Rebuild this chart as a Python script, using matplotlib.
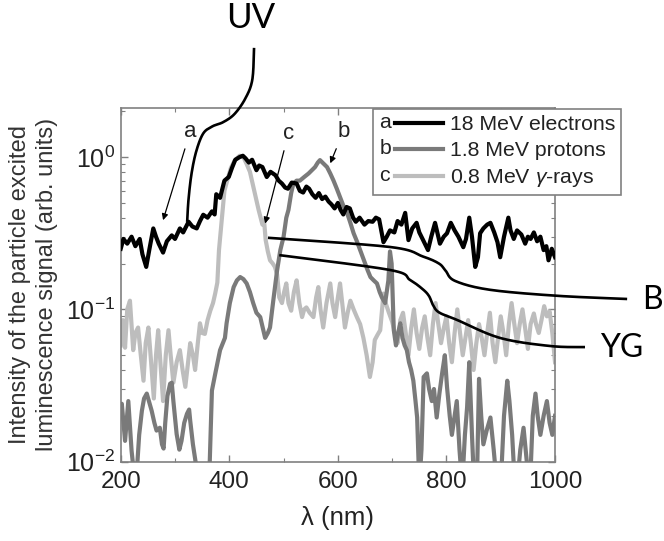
import numpy as np
import matplotlib
matplotlib.use("Agg")
import matplotlib.pyplot as plt
from matplotlib.legend_handler import HandlerBase
from matplotlib.lines import Line2D
from matplotlib.text import Text
from matplotlib.ticker import MultipleLocator

plt.rcParams['font.family'] = ['Liberation Sans', 'DejaVu Sans']
plt.rcParams['mathtext.fontset'] = 'custom'
plt.rcParams['mathtext.rm'] = 'Liberation Sans'
plt.rcParams['mathtext.it'] = 'Liberation Sans:italic'

# a: 18 MeV electrons
lam_a = [200, 205, 212, 220, 227, 235, 240, 247, 253, 260, 265, 270, 278, 285, 294, 300,
         309, 315, 325, 332, 340, 346, 352, 360, 368, 373, 376, 383, 391, 399, 405, 411,
         419, 425, 430, 436, 442, 450, 455, 461, 469, 476, 485, 491, 497, 503, 508, 515,
         524, 530, 536, 542, 547, 553, 559, 565, 571, 577, 583, 588, 594, 600, 605, 610,
         616, 622, 628, 633, 640, 649, 656, 664, 670, 676, 684, 690, 696, 704, 710, 717,
         724, 730, 737, 745, 750, 757, 766, 772, 779, 788, 795, 801, 808, 815, 822, 831,
         836, 842, 847, 853, 858, 862, 868, 875, 881, 888, 894, 899, 906, 914, 918, 924,
         930, 938, 945, 950, 955, 961, 967, 973, 979, 984, 988, 994, 1000]
sig_a = [0.25, 0.29, 0.27, 0.30, 0.26, 0.29, 0.23, 0.19, 0.25, 0.34, 0.30, 0.27, 0.236, 0.28, 0.306, 0.29,
         0.34, 0.32, 0.376, 0.35, 0.34, 0.38, 0.418, 0.40, 0.44, 0.42, 0.57, 0.54, 0.70, 0.74, 0.85, 0.96,
         1.0, 1.02, 0.98, 0.92, 0.96, 0.82, 0.88, 0.86, 0.74, 0.80, 0.76, 0.70, 0.67, 0.63, 0.62, 0.68,
         0.67, 0.60, 0.585, 0.64, 0.62, 0.57, 0.54, 0.58, 0.53, 0.55, 0.51, 0.49, 0.46, 0.50, 0.45, 0.42,
         0.47, 0.46, 0.40, 0.376, 0.40, 0.36, 0.38, 0.376, 0.40, 0.39, 0.276, 0.30, 0.33, 0.32, 0.38, 0.36,
         0.43, 0.285, 0.34, 0.37, 0.32, 0.285, 0.245, 0.30, 0.37, 0.27, 0.30, 0.316, 0.37, 0.33, 0.30, 0.256,
         0.29, 0.40, 0.30, 0.19, 0.22, 0.316, 0.34, 0.36, 0.37, 0.32, 0.276, 0.22, 0.30, 0.40, 0.33, 0.29,
         0.33, 0.31, 0.27, 0.30, 0.29, 0.32, 0.28, 0.30, 0.245, 0.26, 0.21, 0.25, 0.22]

# b: 1.8 MeV protons
lam_b = [200, 202, 208, 214, 220, 225, 230, 234, 239, 243, 248, 252, 257, 262, 266, 272,
         276, 279, 282, 286, 291, 294, 297, 303, 308, 312, 317, 322, 326, 328, 333, 337,
         342, 350, 358, 364, 368, 374, 383, 392, 395, 401, 408, 414, 420, 426, 432, 438,
         444, 450, 457, 462, 466, 471, 475, 481, 488, 494, 500, 505, 509, 514, 518, 524,
         530, 538, 546, 552, 558, 563, 567, 573, 580, 586, 592, 598, 604, 610, 617, 623,
         629, 635, 641, 650, 655, 660, 666, 672, 677, 681, 687, 690, 693, 696, 699, 703,
         707, 711, 715, 719, 723, 727, 731, 735, 739, 743, 746, 750, 754, 758, 764, 768,
         773, 777, 782, 787, 792, 797, 801, 806, 810, 815, 819, 824, 829, 834, 838, 842,
         847, 851, 856, 860, 864, 868, 874, 881, 887, 893, 900, 906, 912, 916, 921, 926,
         930, 936, 942, 948, 954, 959, 964, 968, 973, 979, 985, 990, 995, 1000]
sig_b = [0.020, 0.024, 0.0137, 0.025, 0.0118, 0.008, 0.009, 0.015, 0.0216, 0.026, 0.028, 0.025, 0.0216, 0.018, 0.016, 0.0167,
         0.013, 0.0122, 0.018, 0.027, 0.0325, 0.033, 0.025, 0.0152, 0.012, 0.0137, 0.018, 0.0206, 0.022, 0.0186, 0.013, 0.0105,
         0.008, 0.007, 0.007, 0.010, 0.0293, 0.0376, 0.054, 0.065, 0.081, 0.11, 0.14, 0.155, 0.163, 0.158, 0.148, 0.13,
         0.11, 0.095, 0.089, 0.075, 0.065, 0.07, 0.076, 0.114, 0.18, 0.245, 0.30, 0.40, 0.45, 0.58, 0.67, 0.70,
         0.70, 0.74, 0.78, 0.82, 0.86, 0.92, 0.955, 0.91, 0.86, 0.78, 0.70, 0.62, 0.545, 0.48, 0.43, 0.37,
         0.316, 0.28, 0.245, 0.20, 0.18, 0.163, 0.155, 0.148, 0.13, 0.12, 0.11, 0.13, 0.155, 0.24, 0.20, 0.073,
         0.058, 0.07, 0.081, 0.065, 0.058, 0.054, 0.045, 0.04, 0.034, 0.025, 0.0195, 0.007, 0.012, 0.036, 0.038, 0.03,
         0.025, 0.03, 0.0195, 0.028, 0.038, 0.05, 0.031, 0.02, 0.015, 0.02, 0.025, 0.012, 0.007, 0.015, 0.0227, 0.045,
         0.015, 0.007, 0.007, 0.035, 0.02, 0.013, 0.016, 0.0195, 0.012, 0.007, 0.007, 0.02, 0.034, 0.025, 0.015, 0.007,
         0.007, 0.012, 0.0167, 0.01, 0.007, 0.02, 0.028, 0.02, 0.015, 0.02, 0.025, 0.018, 0.015, 0.02]

# c: 0.8 MeV gamma-rays
lam_c = [200, 204, 208, 212, 217, 223, 227, 232, 237, 242, 246, 251, 256, 261, 265, 269,
         274, 278, 283, 288, 292, 297, 303, 309, 314, 319, 324, 328, 333, 337, 342, 346,
         350, 355, 360, 365, 370, 374, 378, 381, 385, 391, 397, 403, 410, 419, 426, 432,
         438, 446, 454, 461, 464, 467, 471, 475, 480, 484, 488, 492, 497, 501, 505, 509,
         514, 519, 524, 529, 534, 538, 542, 548, 555, 560, 564, 568, 573, 579, 586, 590,
         595, 600, 604, 608, 613, 618, 623, 629, 635, 641, 647, 653, 659, 664, 668, 673,
         678, 684, 688, 694, 700, 705, 710, 715, 720, 725, 730, 735, 740, 745, 750, 755,
         760, 765, 770, 775, 780, 785, 790, 795, 800, 805, 810, 815, 820, 825, 830, 835,
         840, 845, 850, 855, 860, 865, 870, 875, 880, 885, 890, 895, 900, 905, 910, 915,
         920, 925, 930, 935, 940, 945, 950, 955, 961, 965, 970, 975, 980, 985, 990, 995, 1000]
sig_c = [0.058, 0.085, 0.056, 0.10, 0.114, 0.054, 0.07, 0.076, 0.05, 0.034, 0.06, 0.076, 0.045, 0.026, 0.05, 0.073,
         0.04, 0.025, 0.05, 0.073, 0.05, 0.033, 0.045, 0.054, 0.04, 0.031, 0.045, 0.06, 0.05, 0.04, 0.06, 0.081,
         0.07, 0.069, 0.085, 0.098, 0.11, 0.127, 0.15, 0.245, 0.35, 0.60, 0.72, 0.85, 0.95, 1.02, 1.0, 0.90,
         0.80, 0.60, 0.45, 0.36, 0.385, 0.285, 0.24, 0.21, 0.20, 0.19, 0.17, 0.12, 0.11, 0.13, 0.148, 0.11,
         0.098, 0.13, 0.155, 0.11, 0.089, 0.10, 0.103, 0.095, 0.089, 0.12, 0.14, 0.10, 0.076, 0.11, 0.148, 0.11,
         0.089, 0.12, 0.148, 0.11, 0.076, 0.095, 0.114, 0.10, 0.089, 0.08, 0.065, 0.05, 0.036, 0.045, 0.063, 0.068,
         0.073, 0.127, 0.11, 0.095, 0.083, 0.07, 0.06, 0.085, 0.095, 0.07, 0.05, 0.075, 0.10, 0.07, 0.055, 0.075,
         0.09, 0.065, 0.05, 0.08, 0.11, 0.08, 0.06, 0.075, 0.09, 0.06, 0.045, 0.07, 0.10, 0.07, 0.05, 0.065,
         0.085, 0.06, 0.04, 0.06, 0.08, 0.065, 0.05, 0.07, 0.095, 0.06, 0.045, 0.065, 0.09, 0.07, 0.05, 0.08,
         0.11, 0.08, 0.06, 0.08, 0.10, 0.075, 0.055, 0.08, 0.094, 0.08, 0.07, 0.085, 0.105, 0.09, 0.097, 0.07, 0.045]

letters = ['a', 'b', 'c']
labels = ['18 MeV electrons', '1.8 MeV protons', '0.8 MeV $\\gamma$-rays']
colors = ['#000000', '#7a7a7a', '#bdbdbd']

# leader curves for the band labels, in axes fractions
uv_path = [(0.307, 1.170), (0.303, 1.080), (0.287, 1.027), (0.262, 0.983), (0.236, 0.960),
           (0.211, 0.948), (0.190, 0.928), (0.174, 0.878), (0.163, 0.814), (0.156, 0.740), (0.153, 0.678)]
b_path = [(0.339, 0.633), (0.620, 0.607), (0.696, 0.580), (0.733, 0.560), (0.748, 0.540),
          (0.770, 0.511), (0.850, 0.486), (1.005, 0.469), (1.166, 0.460)]
yg_path = [(0.365, 0.584), (0.620, 0.542), (0.666, 0.514), (0.696, 0.487), (0.710, 0.468),
           (0.719, 0.443), (0.733, 0.422), (0.774, 0.401), (0.873, 0.350), (0.989, 0.327), (1.069, 0.324)]


def smooth(pts, n=24):
    # Catmull-Rom spline through the given points
    p = np.asarray(pts, float)
    p = np.vstack([p[0], p, p[-1]])
    t = np.linspace(0, 1, n, endpoint=False)[:, None]
    out = []
    for i in range(1, len(p) - 2):
        p0, p1, p2, p3 = p[i - 1], p[i], p[i + 1], p[i + 2]
        out.append(0.5 * (2 * p1 + (-p0 + p2) * t + (2 * p0 - 5 * p1 + 4 * p2 - p3) * t ** 2
                          + (-p0 + 3 * p1 - 3 * p2 + p3) * t ** 3))
    out.append(p[-2][None])
    return np.vstack(out)


class LetterLine(HandlerBase):
    def __init__(self, letter):
        super().__init__()
        self.letter = letter

    def create_artists(self, legend, orig_handle, xdescent, ydescent, width, height, fontsize, trans):
        y = height / 2 - ydescent
        t = Text(-xdescent, y, self.letter, ha='left', va='center', fontsize=fontsize,
                 color='#222222', transform=trans)
        ln = Line2D([-xdescent + 0.75 * fontsize, width - xdescent], [y, y],
                    color=orig_handle.get_color(), lw=orig_handle.get_linewidth(), transform=trans)
        return [t, ln]


fig = plt.figure(figsize=(6.64, 5.41), dpi=100)
ax = fig.add_axes([0.1818, 0.1466, 0.6541, 0.6538])

handles = []
for lam, sig, col, z in [(lam_c, sig_c, colors[2], 2), (lam_b, sig_b, colors[1], 3), (lam_a, sig_a, colors[0], 4)]:
    ln, = ax.plot(lam, sig, color=col, lw=3.0, zorder=z, solid_joinstyle='round')
    handles.append(ln)
handles = handles[::-1]

ax.set_yscale('log')
ax.set_xlim(200, 1000)
ax.set_ylim(0.01, 2.1)
ax.xaxis.set_major_locator(MultipleLocator(200))
ax.xaxis.set_minor_locator(MultipleLocator(100))
ax.tick_params(which='both', direction='in', top=True, right=True, colors='#808080',
               labelcolor='#222222')
ax.tick_params(axis='x', labelsize=17.5, pad=7)
ax.tick_params(axis='y', labelsize=18, pad=4)
ax.tick_params(which='major', length=5, width=1)
ax.tick_params(which='minor', length=3, width=0.8)
for s in ax.spines.values():
    s.set_color('#808080')
    s.set_linewidth(1.2)

ax.set_xlabel('λ (nm)', fontsize=18.5, color='#222222', labelpad=9)
ax.set_ylabel('Intensity of the particle excited\nluminescence signal (arb. units)',
              fontsize=17, color='#333333', linespacing=1.25, labelpad=6)

leg = ax.legend(handles, labels, loc='upper left', bbox_to_anchor=(0.581, 0.997),
                handler_map={h: LetterLine(l) for h, l in zip(handles, letters)},
                fontsize=15.3, handlelength=3.0, handletextpad=0.3, borderpad=0.3,
                labelspacing=0.32, borderaxespad=0, fancybox=False, framealpha=1)
leg.get_frame().set_edgecolor('#808080')
leg.get_frame().set_linewidth(1.2)
for txt in leg.get_texts():
    txt.set_color('#222222')

# letter arrows pointing at the curves
arrow = dict(arrowstyle='-|>', color='black', lw=0.9, mutation_scale=9, shrinkA=3, shrinkB=0)
ax.annotate('a', xy=(278, 0.385), xytext=(328, 1.47), ha='center', va='center',
            fontsize=16, color='#222222', arrowprops=arrow)
ax.annotate('c', xy=(466, 0.366), xytext=(509, 1.43), ha='center', va='center',
            fontsize=16, color='#222222', arrowprops=arrow)
ax.annotate('b', xy=(586, 0.91), xytext=(610, 1.47), ha='center', va='center',
            fontsize=16, color='#222222', arrowprops=arrow)

for path in (uv_path, b_path, yg_path):
    c = smooth(path)
    ax.plot(c[:, 0], c[:, 1], color='black', lw=1.9, transform=ax.transAxes,
            clip_on=False, zorder=6, solid_capstyle='butt')

ax.text(0.300, 1.254, 'UV', transform=ax.transAxes, fontsize=25, family='Lato',
        ha='center', va='center')
ax.text(1.200, 0.457, 'B', transform=ax.transAxes, fontsize=23, family='Lato',
        ha='left', va='center')
ax.text(1.103, 0.321, 'YG', transform=ax.transAxes, fontsize=23, family='Lato',
        ha='left', va='center')

fig.savefig('out.png', dpi=100)
